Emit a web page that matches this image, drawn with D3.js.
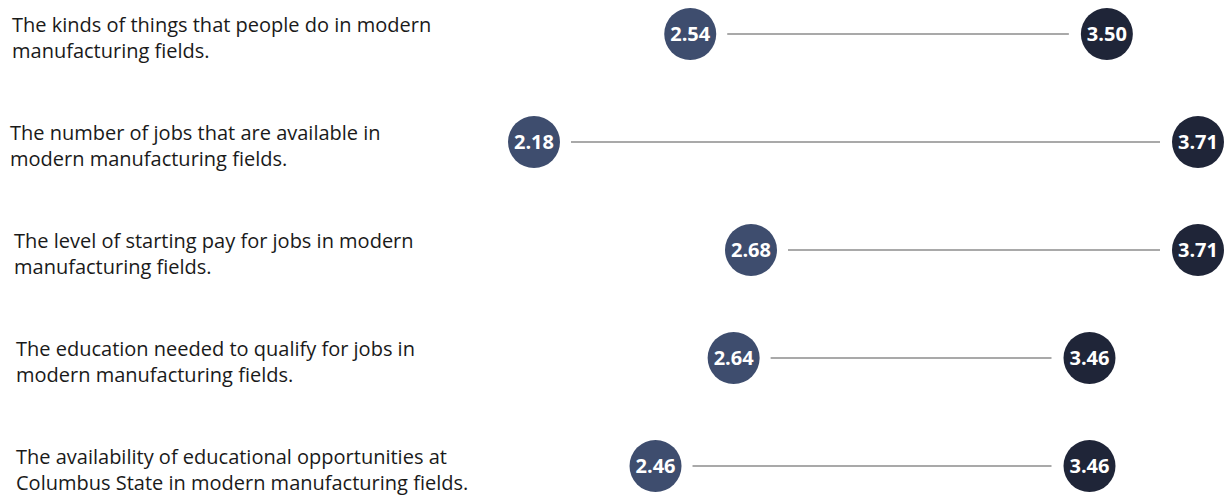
<!DOCTYPE html>
<html>
<head>
<meta charset="utf-8">
<script src="https://cdn.jsdelivr.net/npm/d3@7"></script>
<style>
  html, body { margin: 0; padding: 0; background: #ffffff; }
  svg { display: block; }
</style>
</head>
<body>
<svg id="chart" width="1226" height="497"></svg>
<script>
// ---- data ----
const categories = [
  ["The kinds of things that people do in modern", "manufacturing fields."],
  ["The number of jobs that are available in", "modern manufacturing fields."],
  ["The level of starting pay for jobs in modern", "manufacturing fields."],
  ["The education needed to qualify for jobs in", "modern manufacturing fields."],
  ["The availability of educational opportunities at", "Columbus State in modern manufacturing fields."]
];
const startValues = [2.54, 2.18, 2.68, 2.64, 2.46];
const endValues   = [3.50, 3.71, 3.71, 3.46, 3.46];

// ---- layout ----
const labelX = [12, 10, 14, 16, 16];
const svg = d3.select("#chart");

const x = d3.scaleLinear().domain([2.18, 3.71]).range([534, 1198]);
const y = d3.scalePoint().domain(d3.range(categories.length)).range([34, 466]);

const r = 26;
const startColor = "#3e4d6e";
const endColor = "#1f2538";

const rows = categories.map((c, i) => ({ i, lines: c, a: startValues[i], b: endValues[i] }));

const g = svg.selectAll("g.row").data(rows).join("g").attr("class", "row");

// labels
g.append("text")
  .attr("font-family", "'Open Sans', 'Noto Sans', sans-serif")
  .attr("font-size", 20)
  .attr("fill", "#1a1a1a")
  .each(function(d) {
    const t = d3.select(this);
    d.lines.forEach((ln, k) => {
      t.append("tspan")
        .attr("x", labelX[d.i])
        .attr("y", y(d.i) - 9 + k * 26)
        .attr("dy", "0.35em")
        .text(ln);
    });
  });

// connector lines
g.append("line")
  .attr("x1", d => x(d.a) + r + 11)
  .attr("x2", d => x(d.b) - r - 12)
  .attr("y1", d => y(d.i))
  .attr("y2", d => y(d.i))
  .attr("stroke", "#8c8c8c")
  .attr("stroke-width", 1.5);

// circles
g.append("circle")
  .attr("cx", d => x(d.a)).attr("cy", d => y(d.i)).attr("r", r)
  .attr("fill", startColor);
g.append("circle")
  .attr("cx", d => x(d.b)).attr("cy", d => y(d.i)).attr("r", r)
  .attr("fill", endColor);

// value labels
const fmt = d3.format(".2f");
["a", "b"].forEach(key => {
  g.append("text")
    .attr("x", d => x(d[key]))
    .attr("y", d => y(d.i))
    .attr("dy", "0.36em")
    .attr("text-anchor", "middle")
    .attr("font-family", "'Open Sans', 'Noto Sans', sans-serif")
    .attr("font-weight", "bold")
    .attr("font-size", 20)
    .attr("fill", "#ffffff")
    .text(d => fmt(d[key]));
});
</script>
</body>
</html>
